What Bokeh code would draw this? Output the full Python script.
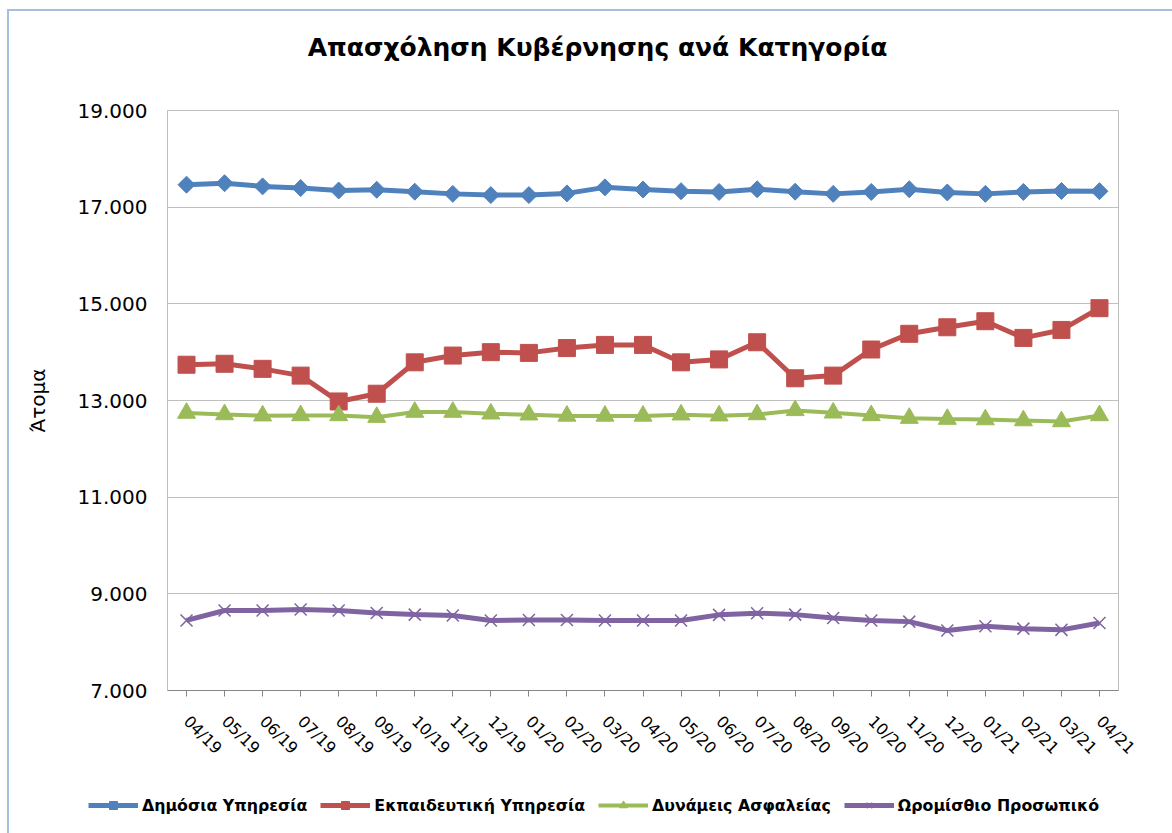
import math
from bokeh.plotting import figure
from bokeh.layouts import column, row
from bokeh.models import FactorRange, Range1d, FixedTicker, Legend, LegendItem, Label
from bokeh.embed import file_html
from bokeh.resources import INLINE

months = ["04/19", "05/19", "06/19", "07/19", "08/19", "09/19", "10/19", "11/19", "12/19",
          "01/20", "02/20", "03/20", "04/20", "05/20", "06/20", "07/20", "08/20", "09/20",
          "10/20", "11/20", "12/20", "01/21", "02/21", "03/21", "04/21"]

dimosia = [17465, 17495, 17430, 17395, 17345, 17360, 17320, 17275, 17250,
           17250, 17285, 17410, 17365, 17330, 17315, 17370, 17320, 17275,
           17315, 17370, 17305, 17275, 17315, 17335, 17330]
ekpaideutiki = [13740, 13760, 13655, 13515, 12980, 13140, 13790, 13930, 14000,
                13985, 14085, 14150, 14150, 13790, 13850, 14205, 13460, 13515,
                14055, 14380, 14515, 14640, 14295, 14460, 14910]
asfaleia = [12740, 12710, 12685, 12690, 12690, 12655, 12760, 12760, 12725,
            12705, 12680, 12680, 12680, 12705, 12685, 12710, 12795, 12745,
            12690, 12635, 12615, 12605, 12585, 12565, 12690]
oromisthio = [8450, 8655, 8655, 8675, 8655, 8605, 8570, 8550, 8450,
              8460, 8460, 8450, 8450, 8450, 8565, 8600, 8570, 8500,
              8450, 8425, 8240, 8330, 8280, 8255, 8395]

series_names = ["Δημόσια Υπηρεσία", "Εκπαιδευτική Υπηρεσία", "Δυνάμεις Ασφαλείας", "Ωρομίσθιο Προσωπικό"]
colors = ["#4F81BD", "#C0504D", "#9BBB59", "#8064A2"]

y_ticks = [7000, 9000, 11000, 13000, 15000, 17000, 19000]
y_tick_labels = ["7.000", "9.000", "11.000", "13.000", "15.000", "17.000", "19.000"]

title_text = "Απασχόληση Κυβέρνησης ανά Κατηγορία"
y_label = "Άτομα"

W = 1163

# ---- header with the title ----
head = figure(width=W, height=60, x_range=Range1d(0, 1), y_range=Range1d(0, 1),
              output_backend="svg", toolbar_location=None, min_border=0,
              x_axis_type=None, y_axis_type=None)
head.outline_line_color = None
head.grid.grid_line_color = None
head.add_layout(Label(x=588, y=24, x_units="screen", y_units="screen", text=title_text,
                      text_align="center", text_baseline="middle",
                      text_font="DejaVu Sans", text_font_size="25px",
                      text_font_style="bold", text_color="#000000"))

# ---- main chart ----
p = figure(width=W, height=719,
           x_range=FactorRange(factors=months, range_padding=0),
           y_range=Range1d(7000, 19000),
           output_backend="svg", toolbar_location=None,
           min_border_left=158, min_border_right=54, min_border_top=39, min_border_bottom=100)

p.background_fill_color = "white"
p.border_fill_color = "white"
p.outline_line_color = "#BFBFBF"
p.outline_line_width = 1

p.xgrid.grid_line_color = None
p.ygrid.grid_line_color = "#BFBFBF"
p.ygrid.grid_line_width = 1

p.yaxis.ticker = FixedTicker(ticks=y_ticks)
p.yaxis.major_label_overrides = {t: l for t, l in zip(y_ticks, y_tick_labels)}
p.yaxis.major_label_text_font = "DejaVu Sans"
p.yaxis.major_label_text_font_size = "20px"
p.yaxis.major_label_text_color = "#000000"
p.yaxis.major_tick_out = 0
p.yaxis.major_tick_in = 0
p.yaxis.minor_tick_line_color = None
p.yaxis.major_label_standoff = 20
p.yaxis.axis_line_color = "#BFBFBF"
p.yaxis.axis_label = y_label
p.yaxis.axis_label_text_font = "DejaVu Sans"
p.yaxis.axis_label_text_font_size = "20px"
p.yaxis.axis_label_text_font_style = "normal"
p.yaxis.axis_label_text_color = "#000000"
p.yaxis.axis_label_standoff = 25

p.xaxis.major_label_orientation = -math.pi / 4
p.xaxis.major_label_text_font = "DejaVu Sans"
p.xaxis.major_label_text_font_size = "16px"
p.xaxis.major_label_text_color = "#000000"
p.xaxis.axis_line_color = "#868686"
p.xaxis.major_tick_line_color = "#868686"
p.xaxis.major_tick_out = 6
p.xaxis.major_tick_in = 0
p.xaxis.major_label_standoff = 22

# ---- legend strip ----
leg = figure(width=W, height=43, x_range=Range1d(0, 1), y_range=Range1d(0, 1),
             output_backend="svg", toolbar_location=None, min_border=0,
             x_axis_type=None, y_axis_type=None)
leg.outline_line_color = None
leg.grid.grid_line_color = None

# legend proxies sit outside the visible range of the legend strip
proxy_x = [-5]
proxy_y = [-5]

data = [dimosia, ekpaideutiki, asfaleia, oromisthio]
items = []
for i, (vals, name, col) in enumerate(zip(data, series_names, colors)):
    lw = 4 if i == 2 else 5
    p.line(months, vals, line_color=col, line_width=lw)
    ln = leg.line(proxy_x, proxy_y, line_color=col, line_width=lw)
    if i == 0:
        kw = dict(marker="square", angle=math.pi / 4, size=12, fill_color=col, line_color=col)
    elif i == 1:
        kw = dict(marker="square", size=17, fill_color=col, line_color=col)
    elif i == 2:
        kw = dict(marker="triangle", size=18, fill_color=col, line_color=col)
    else:
        kw = dict(marker="x", size=17, line_color=col, line_width=1.5)
    p.scatter(months, vals, **kw)
    mk = leg.scatter(proxy_x, proxy_y, **kw)
    items.append(LegendItem(label=name, renderers=[ln, mk]))

legend = Legend(items=items, orientation="horizontal", location=(79, 18),
                glyph_width=50, glyph_height=20, label_standoff=4, spacing=13,
                padding=0, margin=0,
                label_text_font="DejaVu Sans", label_text_font_size="15.8px",
                label_text_font_style="bold", label_text_color="#000000",
                border_line_color=None, background_fill_alpha=0)
leg.add_layout(legend, "center")

layout = column(row(head), p, row(leg), spacing=0)
layout.styles = {"margin-left": "7px", "margin-top": "9px",
                 "border-left": "2px solid #A7BFDE", "border-top": "2px solid #A7BFDE"}

open("out.html", "w").write(file_html(layout, INLINE))
